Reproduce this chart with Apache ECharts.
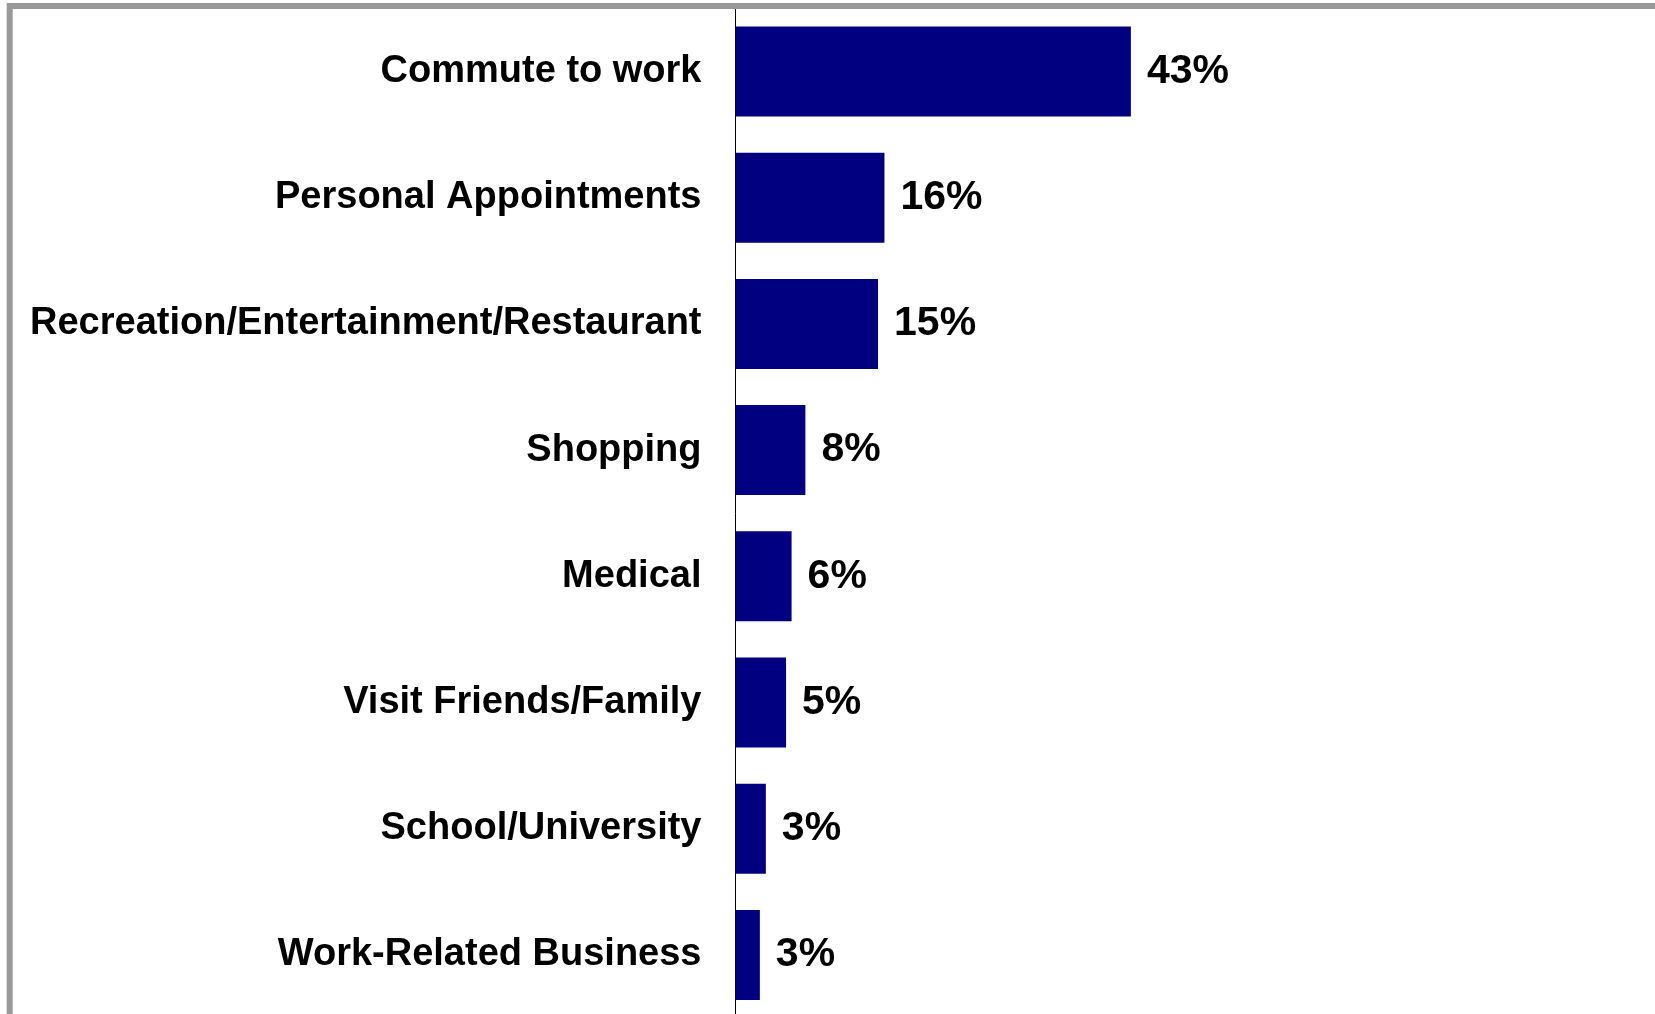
<!DOCTYPE html>
<html>
<head>
<meta charset="utf-8">
<script src="https://cdn.jsdelivr.net/npm/echarts@6/dist/echarts.min.js"></script>
<style>
html,body{margin:0;padding:0;background:#fff;overflow:hidden;}
#chart{width:1655px;height:1030px;}
</style>
</head>
<body>
<div id="chart"></div>
<script>
var categories = ["Commute to work","Personal Appointments","Recreation/Entertainment/Restaurant","Shopping","Medical","Visit Friends/Family","School/University","Work-Related Business"];
var values = [43, 16.2, 15.5, 7.6, 6.1, 5.5, 3.3, 2.65];
var valueLabels = ["43%","16%","15%","8%","6%","5%","3%","3%"];

var chart = echarts.init(document.getElementById('chart'), null, {renderer:'canvas'});
var font = '"Liberation Sans", Arial, Helvetica, sans-serif';
chart.setOption({
  animation: false,
  backgroundColor: '#ffffff',
  graphic: [{
    type: 'rect',
    z: 100,
    silent: true,
    shape: {x: 9.7, y: 6, width: 3000, height: 3000},
    style: {fill: 'none', stroke: '#999999', lineWidth: 6}
  }],
  grid: {left: 735.5, top: 8.4, width: 920, height: 1009.6, containLabel: false},
  xAxis: {
    type: 'value', min: 0, max: 100, show: false
  },
  yAxis: {
    type: 'category',
    data: categories,
    inverse: true,
    axisLine: {show: true, lineStyle: {color: '#000000', width: 1}},
    axisTick: {show: false},
    splitLine: {show: false},
    axisLabel: {
      margin: 34, fontSize: 38, fontWeight: 'bold', color: '#000000', fontFamily: font,
      padding: [3, 0, 0, 0]
    }
  },
  series: [{
    type: 'bar',
    data: values,
    barWidth: 90,
    itemStyle: {color: '#000080'},
    label: {
      show: true, position: 'right', distance: 16,
      fontSize: 41, fontWeight: 'bold', color: '#000000', fontFamily: font,
      padding: [3, 0, 0, 0],
      formatter: function(p){ return valueLabels[p.dataIndex]; }
    }
  }]
});
</script>
</body>
</html>
